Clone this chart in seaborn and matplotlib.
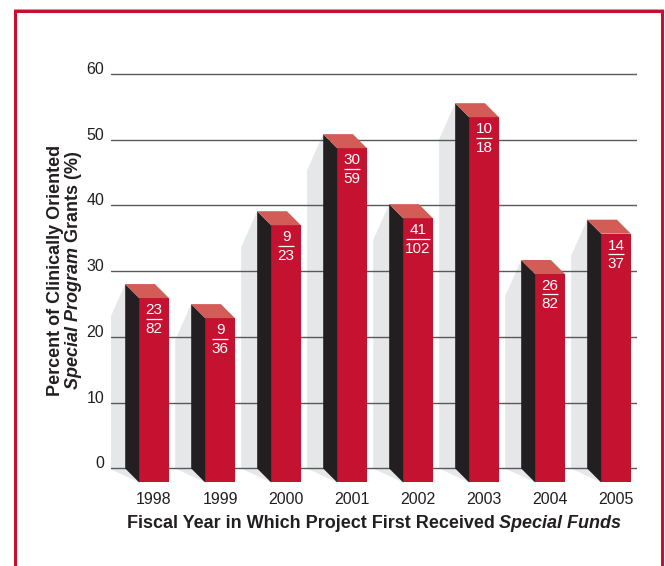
import matplotlib
matplotlib.use("Agg")
import numpy as np
import pandas as pd
import matplotlib.pyplot as plt
import seaborn as sns
from matplotlib.patches import Polygon, Rectangle

# data: clinically oriented grants / all grants per year
years = ["1998", "1999", "2000", "2001", "2002", "2003", "2004", "2005"]
clinical = [23, 9, 9, 30, 41, 10, 26, 14]
totals = [82, 36, 23, 59, 102, 18, 82, 37]
yticks = [0, 10, 20, 30, 40, 50, 60]

front_red = "#c41230"
side_black = "#231f20"
top_red = "#d45c57"
shadow_gray = "#e6e7e8"
grid_gray = "#58595b"
text_col = "#231f20"

sns.set_theme(style="white")
plt.rcParams["font.family"] = ["Liberation Sans", "DejaVu Sans"]

pct = [100 * c / t for c, t in zip(clinical, totals)]
df = pd.DataFrame({"year": years, "pct": pct})

W, H = 665, 566
fig = plt.figure(figsize=(W / 100, H / 100), dpi=100)
ax = fig.add_axes([111 / W, 1 - 488.2 / H, 526 / W, (488.2 - 67.4) / H])

sns.barplot(data=df, x="year", y="pct", color=front_red, saturation=1,
            width=0.45, errorbar=None, linewidth=0, zorder=3, ax=ax)

xlo, xhi = -0.44, 7.53
ylo, yhi = -3, 61
ax.set_xlim(xlo, xhi)
ax.set_ylim(ylo, yhi)

# 3d depth offsets (pixels -> data units)
px_x = ax.bbox.width / (xhi - xlo)
px_y = ax.bbox.height / (yhi - ylo)
dx = 14 / px_x
dy = 14 / px_y
sx = 16 / px_x
sh = 36 / px_y

for i, (bar, v) in enumerate(zip(ax.patches, pct)):
    x0 = bar.get_x()
    w = bar.get_width()
    # front face, shifted forward
    bar.set_x(x0 + dx)
    bar.set_y(-dy)
    bar.set_height(v)
    # shadow
    ax.add_patch(Polygon([(x0, v), (x0 - sx, v - sh), (x0 - sx, 0), (x0 + dx, -dy)],
                         closed=True, facecolor=shadow_gray, edgecolor="none", zorder=0.2))
    # left side
    ax.add_patch(Polygon([(x0, v), (x0 + dx, v - dy), (x0 + dx, -dy), (x0, 0)],
                         closed=True, facecolor=side_black, edgecolor="none", zorder=3))
    # top
    ax.add_patch(Polygon([(x0, v), (x0 + w, v), (x0 + w + dx, v - dy), (x0 + dx, v - dy)],
                         closed=True, facecolor=top_red, edgecolor="none", zorder=3))

    # fraction label
    cx = i + dx
    ytop = v - dy
    ax.annotate(str(clinical[i]), (cx, ytop), xytext=(0, -12), textcoords="offset pixels",
                ha="center", va="center", color="white", fontsize=11, zorder=6)
    ax.annotate(str(totals[i]), (cx, ytop), xytext=(0, -30.5), textcoords="offset pixels",
                ha="center", va="center", color="white", fontsize=11, zorder=6)
    n = max(len(str(clinical[i])), len(str(totals[i])))
    half = n * 8.2 / 2 / px_x
    yl = ytop - 20.5 / px_y
    ax.plot([cx - half, cx + half], [yl, yl], color="white", lw=0.9,
            solid_capstyle="butt", zorder=6)

ax.set_xticks([i + dx for i in range(len(years))], years)
ax.set_yticks(yticks, [str(t) for t in yticks])
for lab in ax.get_yticklabels():
    lab.set_verticalalignment("baseline")
ax.tick_params(axis="x", length=0, pad=3, labelsize=11.5, labelcolor=text_col)
ax.tick_params(axis="y", length=0, pad=5, labelsize=11.5, labelcolor=text_col)
ax.set_xlabel("")
ax.set_ylabel("")
ax.grid(axis="y", color=grid_gray, lw=1)
ax.grid(axis="x", visible=False)
ax.set_axisbelow(True)
for s in ax.spines.values():
    s.set_visible(False)

# axis titles with italic pieces
renderer = fig.canvas.get_renderer()
inv = fig.transFigure.inverted()


def mixed_text(parts, cx, cy, vertical):
    texts = []
    for s, st in parts:
        t = fig.text(0, 0, s, fontsize=13, weight="bold", style=st, color=text_col,
                     rotation=90 if vertical else 0,
                     ha="center" if vertical else "left",
                     va="bottom" if vertical else "center")
        texts.append(t)
    sizes = [t.get_window_extent(renderer) for t in texts]
    if vertical:
        total = sum(b.height for b in sizes)
        pos = cy - total / 2
        for t, b in zip(texts, sizes):
            t.set_position(inv.transform((cx, pos)))
            pos += b.height
    else:
        total = sum(b.width for b in sizes)
        pos = cx - total / 2
        for t, b in zip(texts, sizes):
            t.set_position(inv.transform((pos, cy)))
            pos += b.width


mixed_text([("Percent of Clinically Oriented", "normal")], 55, H - 270, True)
mixed_text([("Special Program", "italic"), (" Grants (%)", "normal")], 73, H - 270, True)
mixed_text([("Fiscal Year in Which Project First Received ", "normal"),
            ("Special Funds", "italic")], 374, H - 524, False)

# red frame
fig.add_artist(Rectangle((13.5 / W, -0.05), (663 - 13.5) / W, 1.05 - 9.5 / H,
                         transform=fig.transFigure, fill=False, edgecolor="#9a9a9a", lw=0.6))
fig.add_artist(Rectangle((15 / W, -0.05), (661.5 - 15) / W, 1.05 - 11 / H,
                         transform=fig.transFigure, fill=False, edgecolor="#c8102e", lw=2.2))

fig.savefig("out.png", dpi=100)
